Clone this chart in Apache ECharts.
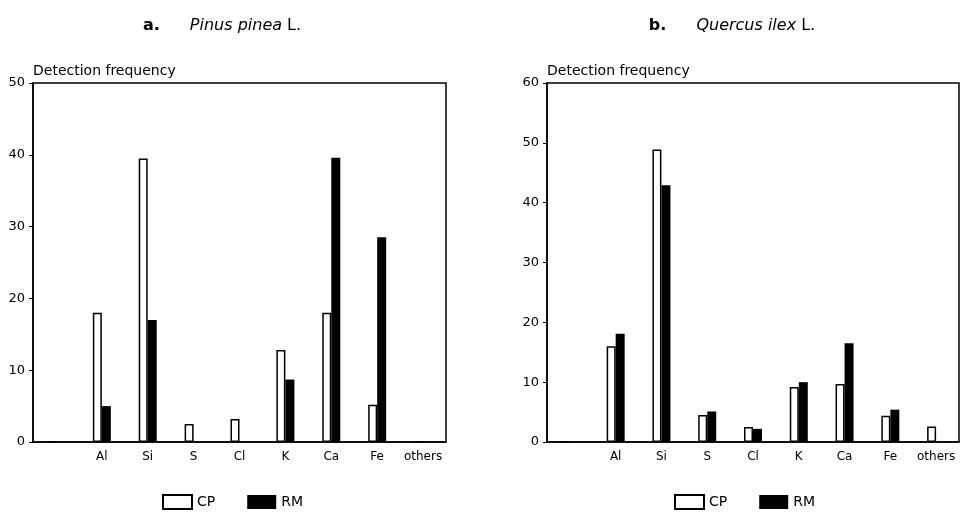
<!DOCTYPE html>
<html>
<head>
<meta charset="utf-8">
<script src="https://cdn.jsdelivr.net/npm/echarts@6/dist/echarts.min.js"></script>
<style>
  html, body { margin: 0; padding: 0; background: #fff; }
  #main { width: 960px; height: 514px; }
</style>
</head>
<body>
<div id="main"></div>
<script>
// first slot is an empty category, as in the figure
var elements = ['', 'Al', 'Si', 'S', 'Cl', 'K', 'Ca', 'Fe', 'others'];

// a. Pinus pinea L.
var pineaCP = [0, 18, 39.5, 2.5, 3.2, 12.8, 18, 5.2, 0];
var pineaRM = [0, 5, 17, 0, 0, 8.7, 39.6, 28.5, 0];

// b. Quercus ilex L.
var ilexCP = [0, 16, 48.9, 4.5, 2.5, 9.2, 9.7, 4.4, 2.6];
var ilexRM = [0, 18.1, 42.9, 5.1, 2.2, 10, 16.5, 5.4, 0];

var FONT = 'DejaVu Sans';

function xAxisFor(i) {
    return {
        type: 'category',
        gridIndex: i,
        data: elements,
        axisLine: { lineStyle: { color: '#000', width: 1.5 } },
        axisTick: { show: false },
        axisLabel: { color: '#000', fontFamily: FONT, fontSize: 12, margin: 9, interval: 0 }
    };
}

function yAxisFor(i, max) {
    return {
        type: 'value',
        gridIndex: i,
        min: 0,
        max: max,
        interval: 10,
        name: 'Detection frequency',
        nameLocation: 'end',
        nameGap: 12,
        nameTextStyle: { color: '#000', fontFamily: FONT, fontSize: 14, align: 'left', verticalAlign: 'middle' },
        axisLine: { show: true, lineStyle: { color: '#000', width: 1.5 } },
        axisTick: { show: true, length: 4, lineStyle: { color: '#000' } },
        axisLabel: { color: '#000', fontFamily: FONT, fontSize: 13, margin: 8 },
        splitLine: { show: false }
    };
}

var cpStyle = { color: '#fff', borderColor: '#000', borderWidth: 1.5 };
var rmStyle = { color: '#000' };

function titleFor(left, letter, genus) {
    return {
        left: left,
        top: 12,
        textAlign: 'center',
        text: '{b|' + letter + '}      {i|' + genus + '} {n|L.}',
        textStyle: {
            fontWeight: 'normal',
            rich: {
                b: { fontFamily: FONT, fontSize: 16, fontWeight: 'bold', color: '#000' },
                i: { fontFamily: FONT, fontSize: 16, fontStyle: 'italic', fontWeight: 'normal', color: '#000' },
                n: { fontFamily: FONT, fontSize: 16, fontWeight: 'normal', color: '#000' }
            }
        }
    };
}

function legendFor(left) {
    return {
        left: left,
        top: 494,
        padding: 0,
        data: ['CP', 'RM'],
        icon: 'rect',
        itemWidth: 29,
        itemHeight: 14,
        itemGap: 32,
        selectedMode: false,
        textStyle: { color: '#000', fontFamily: FONT, fontSize: 14 }
    };
}

var option = {
    backgroundColor: '#fff',
    animation: false,
    title: [
        titleFor(217, 'a.', 'Pinus pinea'),
        titleFor(727, 'b.', 'Quercus ilex')
    ],
    legend: [legendFor(162), legendFor(674)],
    grid: [
        { left: 33, top: 83, width: 413, height: 359, show: true, borderColor: '#000', borderWidth: 1.5 },
        { left: 547, top: 83, width: 412, height: 359, show: true, borderColor: '#000', borderWidth: 1.5 }
    ],
    xAxis: [xAxisFor(0), xAxisFor(1)],
    yAxis: [yAxisFor(0, 50), yAxisFor(1, 60)],
    series: [
        { name: 'CP', type: 'bar', xAxisIndex: 0, yAxisIndex: 0, data: pineaCP, barWidth: 9, barGap: '0%', itemStyle: cpStyle },
        { name: 'RM', type: 'bar', xAxisIndex: 0, yAxisIndex: 0, data: pineaRM, barWidth: 9, barGap: '0%', itemStyle: rmStyle },
        { name: 'CP', type: 'bar', xAxisIndex: 1, yAxisIndex: 1, data: ilexCP, barWidth: 9, barGap: '0%', itemStyle: cpStyle },
        { name: 'RM', type: 'bar', xAxisIndex: 1, yAxisIndex: 1, data: ilexRM, barWidth: 9, barGap: '0%', itemStyle: rmStyle }
    ]
};

var chart = echarts.init(document.getElementById('main'));
chart.setOption(option);
</script>
</body>
</html>
